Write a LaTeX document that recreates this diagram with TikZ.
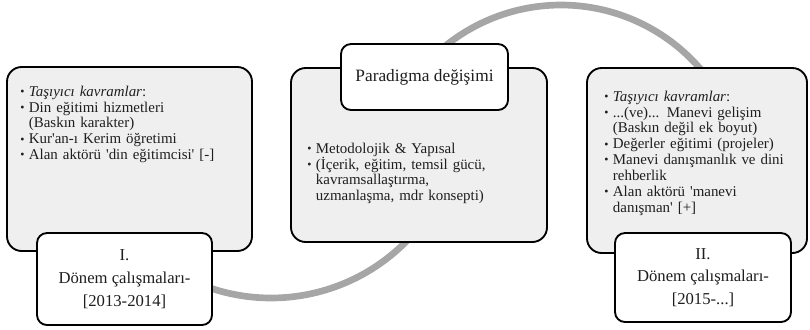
\documentclass[tikz,border=0pt]{standalone}
\usepackage{fontspec}
\setmainfont{Liberation Serif}
\definecolor{boxgray}{HTML}{EFEFEF}
\definecolor{arcgray}{HTML}{A6A6A6}
\definecolor{txt}{HTML}{1E1E1E}
\newlength{\bsep}\setlength{\bsep}{6.5pt}
\newcommand{\bitem}[1]{\par\noindent\makebox[\bsep][l]{\raisebox{0.5pt}{\scalebox{0.8}{\textbullet}}}#1}
\newcommand{\bcont}[1]{\par\noindent\hspace*{\bsep}#1}
\newcommand{\q}{\textquotesingle}
\tikzset{
  bigbox/.style={draw=black, line width=1.4pt, fill=boxgray, rounded corners=11pt, inner sep=0pt},
  smallbox/.style={draw=black, line width=1.4pt, fill=white, rounded corners=7.5pt, inner sep=0pt, align=center, text=txt},
  bodytext/.style={anchor=north west, align=left, text=txt, inner sep=0pt, font=\fontsize{11.2}{11.9}\selectfont},
  arcline/.style={draw=arcgray, line width=5pt}
}
\begin{document}
\begin{tikzpicture}[x=0.75pt,y=-0.75pt]
\useasboundingbox (0,0) rectangle (810,329);
% gray wave
\draw[arcline] plot[domain=20:115, samples=80] ({271+190*cos(\x)}, {108+190*sin(\x)});
\draw[arcline] plot[domain=-135:-30, samples=80] ({561+184*cos(\x)}, {189+184*sin(\x)});
% big boxes
\node[bigbox, minimum width=183.75pt, minimum height=138pt] (L) at (129.5,159) {};
\node[bigbox, minimum width=192pt, minimum height=130.5pt] (M) at (419,155) {};
\node[bigbox, minimum width=165pt, minimum height=138.75pt] (R) at (697,160.5) {};
% small boxes
\node[smallbox, minimum width=131.25pt, minimum height=69pt, font=\fontsize{12.5}{17}\selectfont] (LS) at (124.5,279) {I.\\Dönem çalışmaları-\\{}[2013-2014]};
\node[smallbox, minimum width=125.25pt, minimum height=49.5pt, font=\fontsize{13}{15}\selectfont] (T) at (424.5,77) {Paradigma değişimi};
\node[smallbox, minimum width=132pt, minimum height=66.75pt, font=\fontsize{12.5}{17}\selectfont] (RS) at (703,277.5) {II.\\Dönem çalışmaları-\\{}[2015-...]};
% texts
\node[bodytext, text width=175pt] (Lt) at (20,80) {%
\bitem{\textit{Taşıyıcı kavramlar}:}
\bitem{Din eğitimi hizmetleri}
\bcont{(Baskın karakter)}
\bitem{Kur\q an-ı Kerim öğretimi}
\bitem{Alan aktörü \q din eğitimcisi\q\ [-]}};
\node[bodytext, text width=180pt] (Mt) at (307,137) {%
\bitem{Metodolojik \& Yapısal}
\bitem{(İçerik, eğitim, temsil gücü,}
\bcont{kavramsallaştırma,}
\bcont{uzmanlaşma, mdr konsepti)}};
\node[bodytext, text width=160pt] (Rt) at (604,85) {%
\bitem{\textit{Taşıyıcı kavramlar}:}
\bitem{...(ve)... Manevi gelişim}
\bcont{(Baskın değil ek boyut)}
\bitem{Değerler eğitimi (projeler)}
\bitem{Manevi danışmanlık ve dini}
\bcont{rehberlik}
\bitem{Alan aktörü \q manevi}
\bcont{danışman\q\ [+]}};
\end{tikzpicture}
\end{document}
